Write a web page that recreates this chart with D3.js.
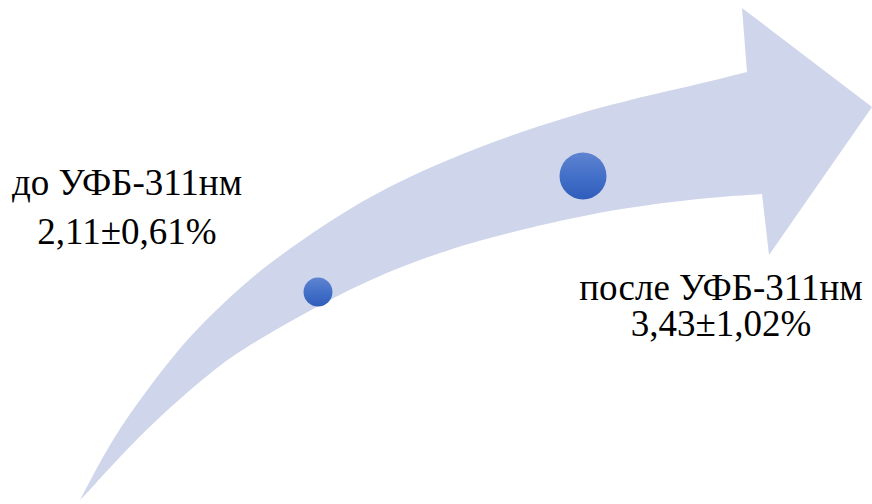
<!DOCTYPE html>
<html><head><meta charset="utf-8"><script src="https://cdn.jsdelivr.net/npm/d3@7"></script></head>
<body style="margin:0">
<svg id="chart" width="872" height="504"></svg>
<script>
// Measurement stages and their values (mean ± SD, %)
const stages = ["до УФБ-311нм", "после УФБ-311нм"];
const means = [2.11, 3.43];
const sds = [0.61, 1.02];

// Outline of the ascending arrow (upper and lower edges of the shaft, head corners)
const upperEdge = [[80, 500], [113, 437], [147, 390], [180, 347], [213, 313], [250, 278], [300, 241],
  [350, 208], [400, 181], [450, 159], [500, 139], [600, 106], [700, 84], [747, 72]];
const lowerEdge = [[762, 194], [700, 198], [600, 211], [500, 235], [450, 249], [383, 273], [317, 306],
  [247, 346], [213, 370], [147, 427], [87, 493], [80, 500]];
const arrowHead = [[742, 8], [872, 107], [769, 255]];

const svg = d3.select("#chart");

// Labels: stage name and mean ± SD, one text element per line, centred on a column
const fmt = v => v.toFixed(2).replace(".", ",");
const labelPos = [
  { cx: 127, y1: 195, y2: 244 },
  { cx: 721, y1: 300, y2: 336 }
];
const lines = [];
stages.forEach((s, i) => {
  lines.push({ x: labelPos[i].cx, y: labelPos[i].y1, t: s });
  lines.push({ x: labelPos[i].cx, y: labelPos[i].y2, t: fmt(means[i]) + "±" + fmt(sds[i]) + "%" });
});
const labels = svg.selectAll("text")
  .data(lines)
  .join("text")
  .attr("y", d => d.y)
  .style("font-family", "'Liberation Serif'")
  .style("font-size", "37px")
  .text(d => d.t);
labels.attr("x", function (d) { return d.x - this.getComputedTextLength() / 2; });

// Arrow body, drawn beneath the labels
const curve = d3.line().curve(d3.curveBasis);
const upperPath = curve(upperEdge);
const lowerPath = curve(lowerEdge).replace(/^M/, "L");
const headPath = arrowHead.map(p => "L" + p[0] + "," + p[1]).join("");
svg.insert("path", "text")
  .attr("d", upperPath + headPath + lowerPath + "Z")
  .attr("fill", "#cfd5ea");

// Dots: position by stage, height and size by mean value
const defs = svg.insert("defs", ":first-child");
const grad = defs.append("linearGradient")
  .attr("id", "dotFill").attr("x1", 0).attr("y1", 0).attr("x2", 0).attr("y2", 1);
grad.append("stop").attr("offset", "0%").attr("stop-color", "#5f84d0");
grad.append("stop").attr("offset", "50%").attr("stop-color", "#4370c8");
grad.append("stop").attr("offset", "100%").attr("stop-color", "#2f5dbb");

const x = d3.scaleLinear().domain([0, 1]).range([318, 583]);
const y = d3.scaleLinear().domain([0, 4]).range([477.5, 125.8]);
const r = d3.scaleLinear().domain([0, 3.43]).range([0, 23.5]);

svg.selectAll("circle.dot")
  .data(means)
  .join(enter => enter.insert("circle", "text"))
  .attr("class", "dot")
  .attr("cx", (d, i) => x(i))
  .attr("cy", d => y(d))
  .attr("r", d => r(d))
  .attr("fill", "url(#dotFill)");
</script>
</body></html>
